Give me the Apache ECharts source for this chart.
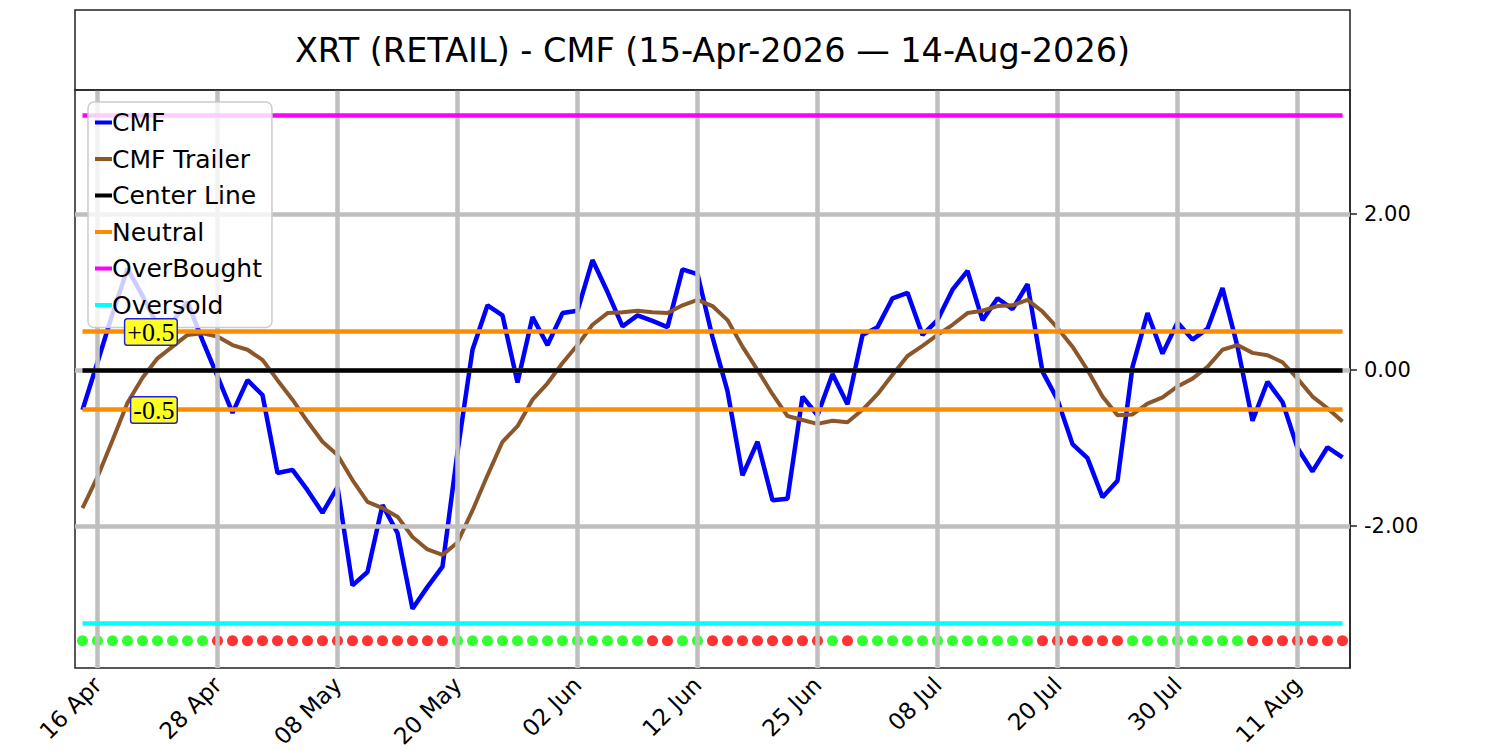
<!DOCTYPE html>
<html>
<head>
<meta charset="utf-8">
<title>XRT CMF</title>
<script src="https://cdn.jsdelivr.net/npm/echarts@6/dist/echarts.min.js"></script>
<style>
  html, body { margin: 0; padding: 0; background: #fff; }
  #graph { width: 1500px; height: 750px; }
</style>
</head>
<body>
<div id="graph"></div>
<script>
// trading days shown on the x axis
var dates = [
    '15 Apr', '16 Apr', '17 Apr', '20 Apr', '21 Apr', '22 Apr', '23 Apr', '24 Apr', '27 Apr', '28 Apr', '29 Apr', '30 Apr',
    '01 May', '04 May', '05 May', '06 May', '07 May', '08 May', '11 May', '12 May', '13 May', '14 May', '15 May', '18 May',
    '19 May', '20 May', '21 May', '22 May', '26 May', '27 May', '28 May', '29 May',
    '01 Jun', '02 Jun', '03 Jun', '04 Jun', '05 Jun', '08 Jun', '09 Jun', '10 Jun', '11 Jun', '12 Jun', '15 Jun', '16 Jun',
    '17 Jun', '18 Jun', '22 Jun', '23 Jun', '24 Jun', '25 Jun', '26 Jun', '29 Jun', '30 Jun',
    '01 Jul', '02 Jul', '06 Jul', '07 Jul', '08 Jul', '09 Jul', '10 Jul', '13 Jul', '14 Jul', '15 Jul', '16 Jul', '17 Jul',
    '20 Jul', '21 Jul', '22 Jul', '23 Jul', '24 Jul', '27 Jul', '28 Jul', '29 Jul', '30 Jul', '31 Jul',
    '03 Aug', '04 Aug', '05 Aug', '06 Aug', '07 Aug', '10 Aug', '11 Aug', '12 Aug', '13 Aug', '14 Aug'
];

var tickDates = ['16 Apr', '28 Apr', '08 May', '20 May', '02 Jun', '12 Jun', '25 Jun', '08 Jul', '20 Jul', '30 Jul', '11 Aug'];
var yTicks = [-2, 0, 2];

var cmf = [
    -0.51, 0.10, 0.72, 1.30, 0.95, 0.58, 0.62, 0.87, 0.38, -0.08,
    -0.55, -0.13, -0.32, -1.32, -1.28, -1.54, -1.83, -1.50, -2.76, -2.59,
    -1.73, -2.09, -3.06, -2.78, -2.52, -1.05, 0.26, 0.83, 0.70, -0.16,
    0.68, 0.32, 0.73, 0.76, 1.41, 1.00, 0.56, 0.70, 0.63, 0.55,
    1.29, 1.23, 0.42, -0.27, -1.35, -0.92, -1.67, -1.65, -0.34, -0.58,
    -0.05, -0.44, 0.45, 0.55, 0.92, 0.99, 0.45, 0.64, 1.03, 1.27,
    0.64, 0.92, 0.78, 1.10, -0.02, -0.38, -0.95, -1.13, -1.63, -1.42,
    0.04, 0.73, 0.21, 0.61, 0.39, 0.53, 1.05, 0.30, -0.65, -0.15,
    -0.41, -1.00, -1.30, -0.99, -1.12
];

var trailer = [
    -1.77, -1.37, -0.90, -0.42, -0.10, 0.15, 0.30, 0.45, 0.47, 0.43,
    0.32, 0.26, 0.13, -0.13, -0.38, -0.66, -0.92, -1.09, -1.41, -1.69,
    -1.77, -1.88, -2.14, -2.30, -2.37, -2.21, -1.80, -1.35, -0.92, -0.72,
    -0.38, -0.17, 0.09, 0.32, 0.58, 0.73, 0.74, 0.76, 0.74, 0.73,
    0.83, 0.90, 0.82, 0.64, 0.30, 0.00, -0.31, -0.59, -0.64, -0.69,
    -0.65, -0.67, -0.51, -0.31, -0.06, 0.18, 0.31, 0.45, 0.58, 0.73,
    0.76, 0.82, 0.83, 0.90, 0.75, 0.54, 0.30, 0.00, -0.34, -0.58,
    -0.57, -0.43, -0.35, -0.21, -0.11, 0.04, 0.26, 0.32, 0.22, 0.19,
    0.10, -0.11, -0.34, -0.49, -0.66
];

// 1 = green dot, 0 = red dot
var signal = [
    1, 1, 1, 1, 1, 1, 1, 1, 1, 0,
    0, 0, 0, 0, 0, 0, 0, 0, 0, 0,
    0, 0, 0, 0, 0, 1, 1, 1, 1, 1,
    1, 1, 1, 1, 1, 1, 1, 1, 0, 0,
    1, 1, 0, 0, 0, 0, 0, 0, 0, 0,
    1, 0, 1, 1, 1, 1, 1, 1, 1, 1,
    1, 1, 1, 1, 0, 0, 0, 0, 0, 0,
    1, 1, 1, 1, 1, 1, 1, 1, 0, 0,
    0, 0, 0, 0, 0
];

var centerLevel = 0;
var neutralLevels = [0.5, -0.5];
var neutralLabels = ['+0.5', '-0.5'];
var overBought = 3.26;
var overSold = -3.24;
var dotLevel = -3.47;

var FONT = 'DejaVu Sans';

// horizontal level line from first to last day
function levelLine(v) {
    return [{coord: [dates[0], v]}, {coord: [dates[dates.length - 1], v]}];
}

function levelSeries(name, color, levels) {
    return {
        name: name,
        type: 'line',
        data: [],
        z: 3,
        color: color,
        itemStyle: {color: color},
        lineStyle: {color: color, width: 4.5},
        markLine: {
            silent: true,
            symbol: ['none', 'none'],
            label: {show: false},
            lineStyle: {color: color, width: 4.5, type: 'solid', opacity: 1},
            emphasis: {disabled: true},
            data: levels.map(levelLine)
        }
    };
}

function isTick(idx, value) {
    return tickDates.indexOf(value) >= 0;
}

var gridMarks = yTicks.map(function (v) { return {yAxis: v}; })
    .concat(tickDates.map(function (d) { return {xAxis: d}; }));

var dotData = dates.map(function (d, i) {
    return {
        value: [d, dotLevel],
        itemStyle: {color: signal[i] ? '#00ff00' : '#ff0000'}
    };
});

var labelData = neutralLevels.map(function (v, i) {
    return {value: [dates[6], v], name: neutralLabels[i]};
});

var option = {
    animation: false,
    backgroundColor: '#ffffff',
    textStyle: {fontFamily: FONT},
    graphic: [
        {
            type: 'rect',
            shape: {x: 75, y: 10, width: 1275, height: 80},
            style: {fill: 'none', stroke: '#222', lineWidth: 1.5},
            z: 10
        },
        {
            type: 'text',
            x: 712.5,
            y: 50,
            style: {
                text: 'XRT (RETAIL) - CMF (15-Apr-2026 \u2014 14-Aug-2026)',
                fontFamily: FONT,
                fontSize: 33.5,
                fill: '#000',
                align: 'center',
                verticalAlign: 'middle'
            },
            z: 10
        }
    ],
    legend: {
        data: ['CMF', 'CMF Trailer', 'Center Line', 'Neutral', 'OverBought', 'Oversold'],
        orient: 'vertical',
        left: 88,
        top: 102,
        z: 10,
        icon: 'rect',
        itemWidth: 17,
        itemHeight: 4,
        itemGap: 11.5,
        padding: [8, 10, 10, 7],
        backgroundColor: 'rgba(255,255,255,0.8)',
        borderColor: '#cccccc',
        borderWidth: 1.5,
        borderRadius: 6,
        selectedMode: false,
        textStyle: {fontFamily: FONT, fontSize: 25, color: '#000', padding: [0, 0, 0, -5]}
    },
    grid: {
        left: 75,
        right: 150,
        top: 90,
        bottom: 82,
        outerBoundsMode: 'none',
        show: true,
        borderColor: '#222',
        borderWidth: 1.5
    },
    xAxis: {
        type: 'category',
        data: dates,
        boundaryGap: true,
        axisLine: {lineStyle: {color: '#222', width: 1.5}},
        axisTick: {interval: isTick, alignWithLabel: true, length: 7, lineStyle: {color: '#222', width: 1.5}},
        axisLabel: {
            interval: isTick,
            rotate: 45,
            margin: 13,
            fontFamily: FONT,
            fontSize: 23,
            color: '#000'
        },
        splitLine: {show: false}
    },
    yAxis: {
        type: 'value',
        position: 'right',
        min: -3.82,
        max: 3.59,
        axisLine: {show: true, lineStyle: {color: '#222', width: 1.5}},
        axisTick: {show: true, customValues: yTicks, length: 7, lineStyle: {color: '#222', width: 1.5}},
        axisLabel: {
            customValues: yTicks,
            margin: 14,
            fontFamily: FONT,
            fontSize: 21,
            color: '#000',
            formatter: function (v) { return v.toFixed(2); }
        },
        splitLine: {show: false}
    },
    series: [
        {
            name: 'grid',
            type: 'line',
            data: [],
            z: 1,
            markLine: {
                silent: true,
                symbol: ['none', 'none'],
                label: {show: false},
                lineStyle: {color: '#bfbfbf', width: 4.5, type: 'solid', opacity: 1},
                emphasis: {disabled: true},
                data: gridMarks
            }
        },
        {
            name: 'CMF',
            type: 'line',
            data: cmf,
            z: 2,
            color: '#0000ff',
            showSymbol: false,
            lineStyle: {color: '#0000ff', width: 4.5},
            itemStyle: {color: '#0000ff'}
        },
        {
            name: 'CMF Trailer',
            type: 'line',
            data: trailer,
            z: 2,
            color: '#8b572a',
            showSymbol: false,
            lineStyle: {color: '#8b572a', width: 4},
            itemStyle: {color: '#8b572a'}
        },
        levelSeries('Center Line', '#000000', [centerLevel]),
        levelSeries('Neutral', '#ff8c00', neutralLevels),
        levelSeries('OverBought', '#ff00ff', [overBought]),
        levelSeries('Oversold', '#00ffff', [overSold]),
        {
            name: 'signal',
            type: 'scatter',
            data: dotData,
            z: 4,
            symbol: 'circle',
            symbolSize: 11,
            silent: true
        },
        {
            name: 'levelLabels',
            type: 'scatter',
            data: labelData,
            z: 12,
            symbolSize: 1,
            silent: true,
            itemStyle: {color: '#ffff22', opacity: 1},
            label: {
                show: true,
                position: 'inside',
                offset: [4, 1],
                align: 'right',
                verticalAlign: 'middle',
                formatter: function (p) { return p.name; },
                fontFamily: 'Liberation Serif',
                fontSize: 26,
                lineHeight: 22,
                color: '#000',
                opacity: 1,
                backgroundColor: '#ffff22',
                borderColor: '#2222dd',
                borderWidth: 1.5,
                borderRadius: 2,
                padding: [2, 2, 1, 2]
            }
        }
    ]
};

var chart = echarts.init(document.getElementById('graph'), null, {renderer: 'svg'});
chart.setOption(option);
</script>
</body>
</html>
